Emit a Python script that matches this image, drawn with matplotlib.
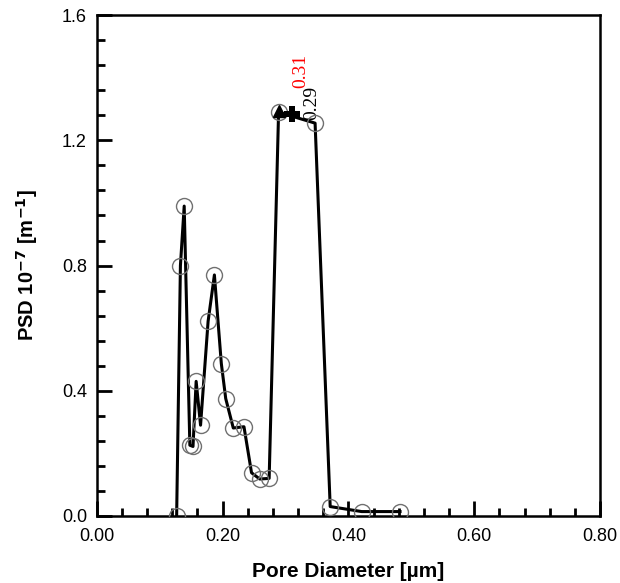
import matplotlib
matplotlib.use("Agg")
import matplotlib.pyplot as plt
from matplotlib.ticker import MultipleLocator

# pore size distribution
diam = [0.127, 0.133, 0.139, 0.148, 0.153, 0.158, 0.165, 0.177, 0.187, 0.198,
        0.205, 0.217, 0.234, 0.246, 0.259, 0.274, 0.289, 0.347, 0.371, 0.421, 0.482]
psd = [0.0, 0.80, 0.99, 0.226, 0.222, 0.43, 0.29, 0.622, 0.77, 0.487,
       0.375, 0.281, 0.285, 0.138, 0.118, 0.12, 1.29, 1.255, 0.03, 0.014, 0.014]

peak_x, peak_y = 0.289, 1.295     # triangle, labelled 0.29
mean_x, mean_y = 0.31, 1.285      # cross, labelled 0.31

plt.rcParams['font.family'] = ['Liberation Sans', 'DejaVu Sans']

fig = plt.figure(figsize=(6.2, 5.83), dpi=100)
ax = fig.add_axes([0.156, 0.115, 0.812, 0.859])

ax.plot(diam, psd, color='black', lw=2.2, zorder=3)
ax.plot(diam, psd, 'o', ms=11.5, mfc='none', mec='#707070', mew=1.0, zorder=4)
ax.plot([peak_x], [peak_y], '^', ms=9, color='black', zorder=5)
ax.plot([mean_x], [mean_y], 'P', ms=12, color='black', mew=0, zorder=5)

ax.text(0.324, 1.367, '0.31', color='red', rotation=90, fontsize=14,
        family='Liberation Serif', ha='center', va='bottom')
ax.text(0.342, 1.265, '0.29', color='black', rotation=90, fontsize=14,
        family='Liberation Serif', ha='center', va='bottom')

ax.set_xlim(0, 0.8)
ax.set_ylim(0, 1.6)
ax.xaxis.set_major_locator(MultipleLocator(0.2))
ax.xaxis.set_minor_locator(MultipleLocator(0.04))
ax.yaxis.set_major_locator(MultipleLocator(0.4))
ax.yaxis.set_minor_locator(MultipleLocator(0.08))
ax.xaxis.set_major_formatter(plt.FormatStrFormatter('%.2f'))
ax.yaxis.set_major_formatter(plt.FormatStrFormatter('%.1f'))

ax.tick_params(which='both', direction='in', top=False, right=False,
               width=2, labelsize=13, color='black')
ax.tick_params(which='major', length=11)
ax.tick_params(axis='x', which='major', pad=9)
ax.tick_params(axis='y', which='major', pad=7)
ax.tick_params(which='minor', length=5.5)
for s in ax.spines.values():
    s.set_linewidth(1.8)

ax.set_xlabel('Pore Diameter [µm]', fontsize=15, fontweight='bold', labelpad=12)
ax.set_ylabel('PSD 10$^{\\mathbf{-7}}$ [m$^{\\mathbf{-1}}$]', fontsize=14.5,
              fontweight='bold', labelpad=16)

fig.savefig('out.png', dpi=100)
